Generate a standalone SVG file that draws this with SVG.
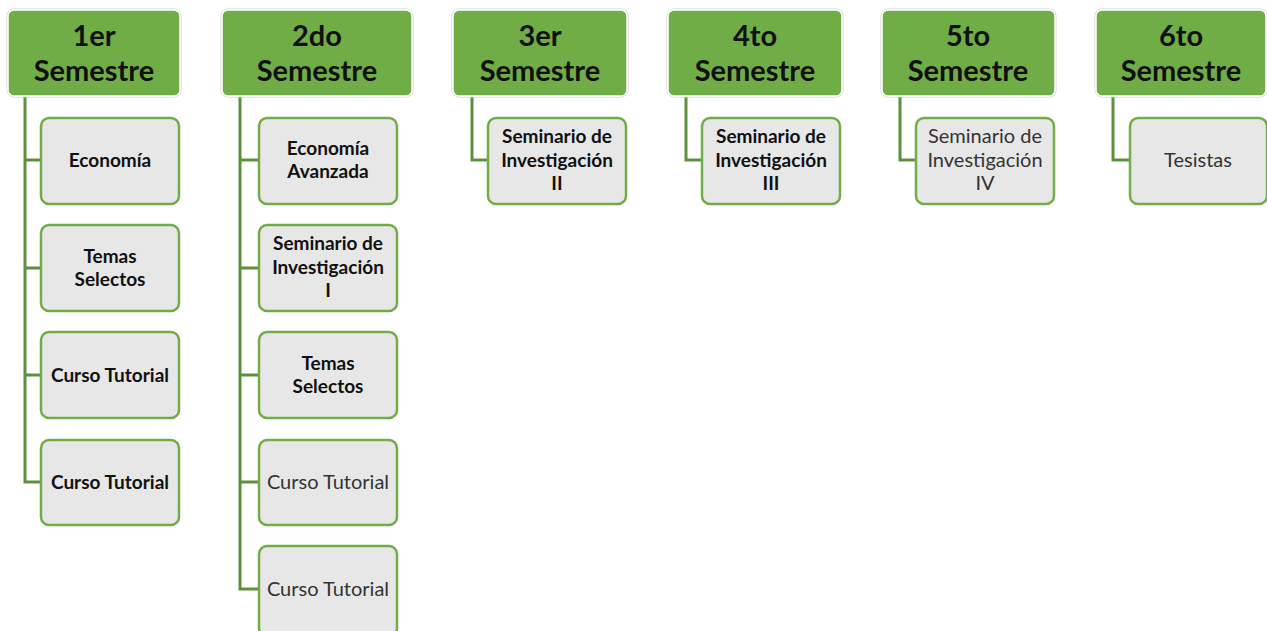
<svg xmlns="http://www.w3.org/2000/svg" width="1267" height="631" viewBox="0 0 1267 631">
<style>
.h rect{fill:#70ad47;stroke:#ffffff;stroke-width:1.5}
.h .o{fill:none;stroke:#cfcfcf;stroke-width:1}
.h text{font-family:Lato,"Open Sans","Liberation Sans",sans-serif;font-weight:700;font-size:29px;fill:#111;text-anchor:middle}
.c rect{fill:#e7e7e7;stroke:#70ad47;stroke-width:2.5}
.c text{font-family:Lato,"Open Sans","Liberation Sans",sans-serif;font-size:19px;fill:#111;text-anchor:middle}
.c text.b{font-weight:700;font-size:19px}
.c text.r{font-size:20px;fill:#333}
#connectors path{fill:none;stroke:#5e8f3d;stroke-width:3}
</style>
<rect width="1267" height="631" fill="#ffffff"/>
<g id="connectors">
<path d="M25 96V482H41M25 160H41M25 268H41M25 375H41"/>
<path d="M240 96V589H259M240 160H259M240 268H259M240 375H259M240 482H259"/>
<path d="M472 96V160H488"/>
<path d="M686 96V160H702"/>
<path d="M900 96V160H916"/>
<path d="M1113 96V160H1130"/>
</g>
<g id="h1" class="h"><rect class="o" x="7" y="9" width="174" height="88" rx="7"/><rect x="8" y="10" width="172" height="86" rx="6"/><text x="94" y="46">1er</text><text x="94" y="81">Semestre</text></g>
<g id="h2" class="h"><rect class="o" x="221" y="9" width="192" height="88" rx="7"/><rect x="222" y="10" width="190" height="86" rx="6"/><text x="317" y="46">2do</text><text x="317" y="81">Semestre</text></g>
<g id="h3" class="h"><rect class="o" x="452" y="9" width="176" height="88" rx="7"/><rect x="453" y="10" width="174" height="86" rx="6"/><text x="540" y="46">3er</text><text x="540" y="81">Semestre</text></g>
<g id="h4" class="h"><rect class="o" x="667" y="9" width="176" height="88" rx="7"/><rect x="668" y="10" width="174" height="86" rx="6"/><text x="755" y="46">4to</text><text x="755" y="81">Semestre</text></g>
<g id="h5" class="h"><rect class="o" x="881" y="9" width="175" height="88" rx="7"/><rect x="882" y="10" width="173" height="86" rx="6"/><text x="968" y="46">5to</text><text x="968" y="81">Semestre</text></g>
<g id="h6" class="h"><rect class="o" x="1095" y="9" width="172" height="88" rx="7"/><rect x="1096" y="10" width="170" height="86" rx="6"/><text x="1181" y="46">6to</text><text x="1181" y="81">Semestre</text></g>

<g id="c1a" class="c"><rect x="41" y="118" width="138" height="86" rx="8"/><text class="b" x="110" y="167">Economía</text></g>
<g id="c1b" class="c"><rect x="41" y="225" width="138" height="86" rx="8"/><text class="b" x="110" y="263">Temas</text><text class="b" x="110" y="286">Selectos</text></g>
<g id="c1c" class="c"><rect x="41" y="332" width="138" height="86" rx="8"/><text class="b" x="110" y="382">Curso Tutorial</text></g>
<g id="c1d" class="c"><rect x="41" y="440" width="138" height="85" rx="8"/><text class="b" x="110" y="489">Curso Tutorial</text></g>

<g id="c2a" class="c"><rect x="259" y="118" width="138" height="86" rx="8"/><text class="b" x="328" y="155">Economía</text><text class="b" x="328" y="178">Avanzada</text></g>
<g id="c2b" class="c"><rect x="259" y="225" width="138" height="86" rx="8"/><text class="b" x="328" y="250">Seminario de</text><text class="b" x="328" y="274">Investigación</text><text class="b" x="328" y="297">I</text></g>
<g id="c2c" class="c"><rect x="259" y="332" width="138" height="86" rx="8"/><text class="b" x="328" y="370">Temas</text><text class="b" x="328" y="393">Selectos</text></g>
<g id="c2d" class="c"><rect x="259" y="440" width="138" height="85" rx="8"/><text class="r" x="328" y="489">Curso Tutorial</text></g>
<g id="c2e" class="c"><rect x="259" y="546" width="138" height="90" rx="8"/><text class="r" x="328" y="596">Curso Tutorial</text></g>

<g id="c3" class="c"><rect x="488" y="118" width="138" height="86" rx="8"/><text class="b" x="557" y="143">Seminario de</text><text class="b" x="557" y="167">Investigación</text><text class="b" x="557" y="190">II</text></g>
<g id="c4" class="c"><rect x="702" y="118" width="138" height="86" rx="8"/><text class="b" x="771" y="143">Seminario de</text><text class="b" x="771" y="167">Investigación</text><text class="b" x="771" y="190">III</text></g>
<g id="c5" class="c"><rect x="916" y="118" width="138" height="86" rx="8"/><text class="r" x="985" y="143">Seminario de</text><text class="r" x="985" y="167">Investigación</text><text class="r" x="985" y="190">IV</text></g>
<g id="c6" class="c"><rect x="1130" y="118" width="137" height="86" rx="8"/><text class="r" x="1198" y="167">Tesistas</text></g>
</svg>
